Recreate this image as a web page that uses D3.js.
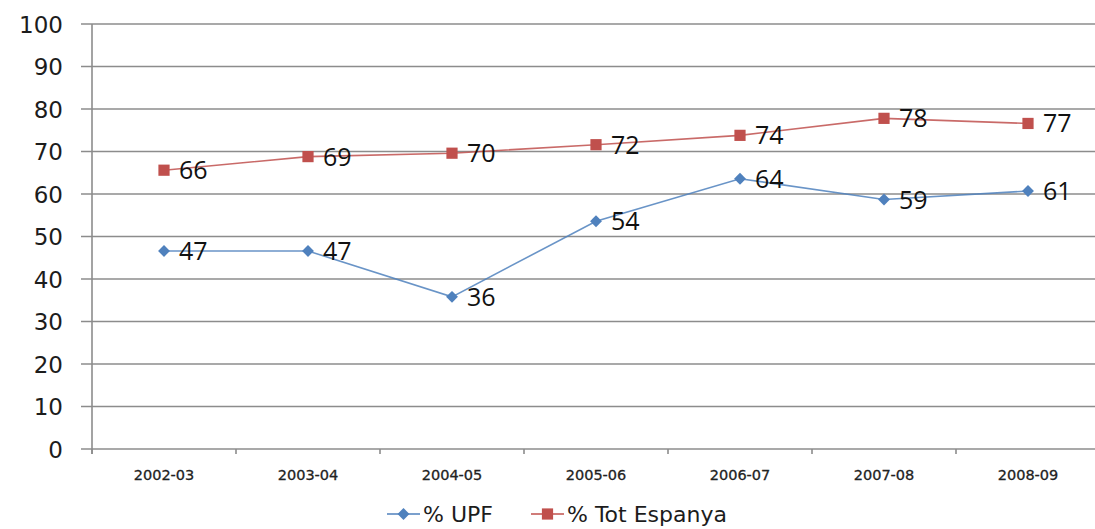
<!DOCTYPE html>
<html>
<head>
<meta charset="utf-8">
<script src="https://cdn.jsdelivr.net/npm/d3@7"></script>
<style>
  html, body { margin: 0; padding: 0; background: #fff; }
  svg { display: block; }
</style>
</head>
<body>
<div id="chart"></div>
<script>
// season labels and the two series (percent)
const seasons = ['2002-03', '2003-04', '2004-05', '2005-06', '2006-07', '2007-08', '2008-09'];
const upf = [46.6, 46.6, 35.8, 53.6, 63.6, 58.7, 60.7];
const totEspanya = [65.6, 68.8, 69.6, 71.6, 73.8, 77.8, 76.6];
const yTicks = [0, 10, 20, 30, 40, 50, 60, 70, 80, 90, 100];
const seriesNames = ['% UPF', '% Tot Espanya'];

const W = 1095, H = 529;
const m = { top: 24, left: 92 };
const plotW = 144 * 7, plotH = 425;

const svg = d3.select('#chart').append('svg').attr('width', W).attr('height', H);

const x = d3.scaleBand().domain(seasons).range([m.left, m.left + plotW]);
const y = d3.scaleLinear().domain([0, 100]).range([m.top + plotH, m.top]);
const cx = d => x(d) + x.bandwidth() / 2;

// gridlines + y labels
const yAxis = svg.append('g');
yAxis.selectAll('line.grid').data(yTicks).enter().append('line')
  .attr('x1', m.left - 11).attr('x2', W)
  .attr('y1', d => y(d)).attr('y2', d => y(d))
  .attr('stroke', '#8c8c8c').attr('stroke-width', 1.6);
yAxis.selectAll('text').data(yTicks).enter().append('text')
  .attr('x', 63).attr('y', d => y(d) + 8.5)
  .attr('text-anchor', 'end')
  .style('font-family', "'DejaVu Sans', sans-serif").style('font-size', '23px').style('fill', '#1c1c1c')
  .text(d => d);

// vertical axis line
svg.append('line')
  .attr('x1', m.left).attr('x2', m.left)
  .attr('y1', m.top).attr('y2', m.top + plotH + 5)
  .attr('stroke', '#8c8c8c').attr('stroke-width', 1.6);

// x ticks between categories
const xEdges = seasons.map(d => x(d)).concat([m.left + plotW]);
svg.selectAll('line.xt').data(xEdges).enter().append('line')
  .attr('x1', d => d).attr('x2', d => d)
  .attr('y1', m.top + plotH).attr('y2', m.top + plotH + 5)
  .attr('stroke', '#8c8c8c').attr('stroke-width', 1.6);
svg.selectAll('text.xl').data(seasons).enter().append('text')
  .attr('x', d => cx(d)).attr('y', 480)
  .attr('text-anchor', 'middle')
  .style('font-family', "'DejaVu Sans', sans-serif").style('font-size', '14.5px')
  .style('fill', '#222').style('stroke', '#222').style('stroke-width', 0.3)
  .text(d => d);

const line = d3.line().x((d, i) => cx(seasons[i])).y(d => y(d));
const blue = '#4f81bd', red = '#c0504d';
const diamond = d3.symbol().type(d3.symbolDiamond2).size(90);
const square = d3.symbol().type(d3.symbolSquare2).size(160);

function drawSeries(vals, color, marker) {
  const g = svg.append('g');
  g.append('path').datum(vals).attr('d', line)
    .attr('fill', 'none').attr('stroke', color).attr('stroke-width', 1.6).attr('stroke-opacity', 0.85);
  g.selectAll('path.mk').data(vals).enter().append('path')
    .attr('transform', (d, i) => `translate(${cx(seasons[i])},${y(d)})`)
    .attr('d', marker === 'diamond' ? diamond : square)
    .attr('fill', color);
  g.selectAll('text').data(vals).enter().append('text')
    .attr('x', (d, i) => cx(seasons[i]) + 15).attr('y', d => y(d) + 9)
    .style('font-family', "'Open Sans', sans-serif").style('font-size', '25px').style('fill', '#111')
    .text(d => Math.round(d));
}
drawSeries(upf, blue, 'diamond');
drawSeries(totEspanya, red, 'square');

// legend
const legend = [
  { name: seriesNames[0], color: blue, marker: 'diamond', x: 387 },
  { name: seriesNames[1], color: red, marker: 'square', x: 531 }
];
legend.forEach(l => {
  const g = svg.append('g');
  g.append('line').attr('x1', l.x).attr('x2', l.x + 33).attr('y1', 514).attr('y2', 514)
    .attr('stroke', l.color).attr('stroke-width', 1.6);
  g.append('path').attr('transform', `translate(${l.x + 16.5},514)`)
    .attr('d', l.marker === 'diamond' ? diamond : square)
    .attr('fill', l.color);
  g.append('text').attr('x', l.x + 36).attr('y', 522)
    .style('font-family', "'DejaVu Sans', sans-serif").style('font-size', '22px').style('fill', '#1c1c1c')
    .text(l.name);
});
</script>
</body>
</html>
